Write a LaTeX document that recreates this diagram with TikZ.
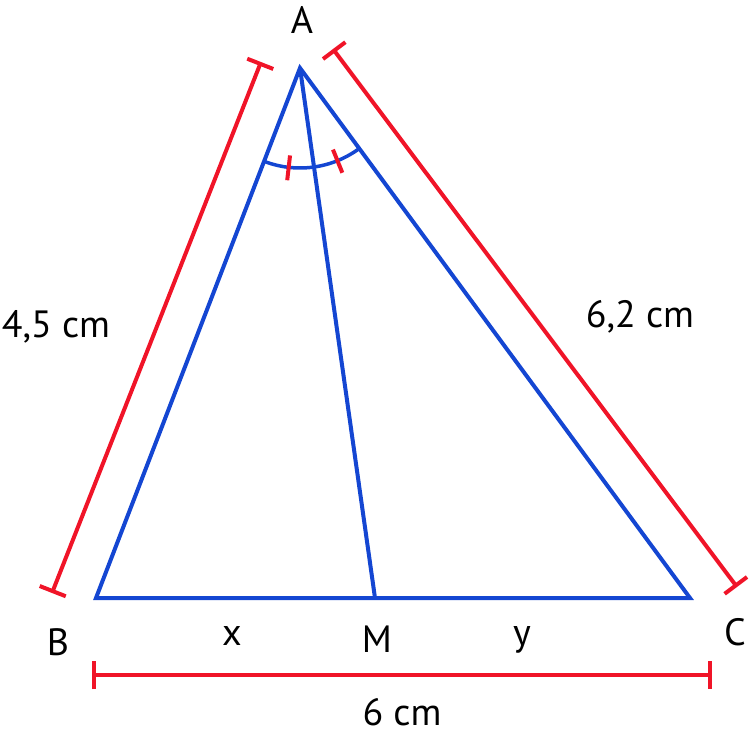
\documentclass[tikz,border=0pt]{standalone}
\usepackage{fontspec}
\setmainfont{PT Sans}
\usetikzlibrary{arrows.meta}
\definecolor{tblue}{RGB}{20,70,210}
\definecolor{tred}{RGB}{240,20,40}
\begin{document}
\begin{tikzpicture}[x=1pt,y=1pt,
  side/.style={draw=tblue,line width=4pt,line join=miter},
  meas/.style={draw=tred,line width=4pt,{Bar[width=28pt,line width=4pt]}-{Bar[width=28pt,line width=4pt]}},
  tick/.style={draw=tred,line width=4pt},
  lbl/.style={inner sep=0pt,anchor=base,font=\fontsize{38}{40}\selectfont}]
\useasboundingbox (0,0) rectangle (749,737);
\coordinate (A) at (300,669);
\coordinate (B) at (96,139);
\coordinate (C) at (690,139);
\coordinate (M) at (375,139);
\coordinate (L1) at (261,675);
\coordinate (L2) at (52,144);
\coordinate (R1) at (333,688);
\coordinate (R2) at (737,150);
\coordinate (D1) at (92,62);
\coordinate (D2) at (712,62);
\draw[side] (A) -- (B) -- (C) -- cycle;
\draw[side] (A) -- (M);
\draw[side,line width=3.5pt] (A) ++(248.9:100) arc[start angle=248.9,end angle=306.3,radius=100];
\draw[tick] (A) ++(263.5:88) -- ++(263.5:25);
\draw[tick] (A) ++(292:88) -- ++(292:25);
\draw[meas] (L1) -- (L2);
\draw[meas] (R1) -- (R2);
\draw[meas] (D1) -- (D2);
\node[lbl] (tA) at (302,703) {A};
\node[lbl] (tB) at (58,82) {B};
\node[lbl] (tC) at (735,92) {C};
\node[lbl] (tM) at (377,85) {M};
\node[lbl] (tx) at (232,92) {x};
\node[lbl] (ty) at (522,92) {y};
\node[lbl] (t6) at (402,12) {6 cm};
\node[lbl] (t45) at (56,399) {4,5 cm};
\node[lbl] (t62) at (640,409) {6,2 cm};
\end{tikzpicture}
\end{document}
